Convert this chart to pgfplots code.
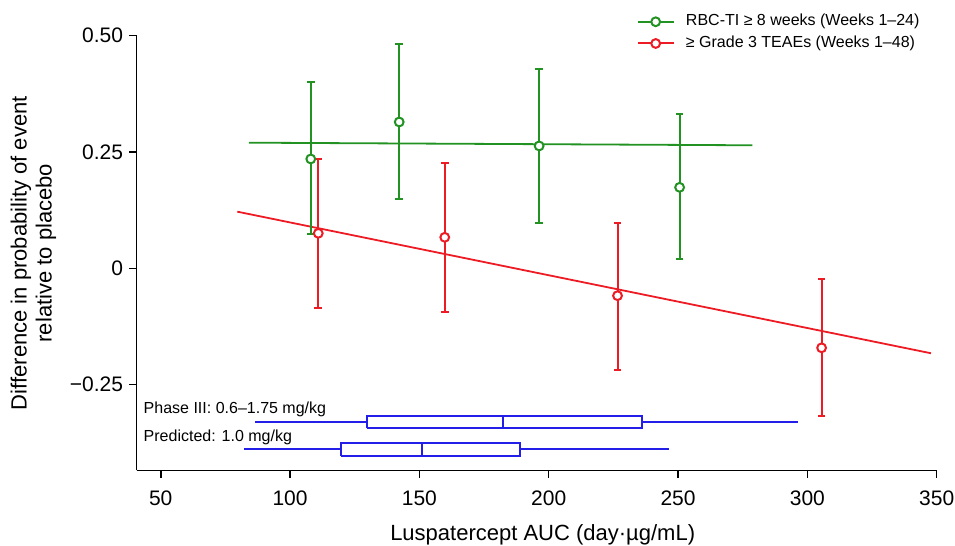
\documentclass[border=0pt]{standalone}
\usepackage{fontspec}
\setmainfont{Liberation Sans}
\usepackage{pgfplots}
\usepackage{pgfplotstable}
\pgfplotsset{compat=1.18}

\definecolor{ptgreen}{RGB}{34,146,34}
\definecolor{ptred}{RGB}{237,28,36}
\definecolor{boxblue}{RGB}{35,31,232}

% x, y, upper and lower error
\pgfplotstableread{
x      y       ep      em
108.0  0.2350  0.1655  0.1606
142.2  0.3145  0.1670  0.1662
196.3  0.2630  0.1650  0.1650
250.6  0.1740  0.1580  0.1550
}\rbcti
\pgfplotstableread{
x      y        ep      em
110.9  0.0752   0.1591  0.1602
159.8  0.0666   0.1591  0.1612
226.6  -0.0589  0.1569  0.1591
305.5  -0.1710  0.1473  0.1460
}\teaes

\begin{document}
\begin{tikzpicture}
\useasboundingbox (-68.35pt,-37.75pt) rectangle (409.15pt,235.25pt);
\begin{axis}[
    at={(0,0)}, anchor=south west,
    width=400pt, height=217.4pt, scale only axis,
    xmin=40.7, xmax=350, ymin=-0.4347, ymax=0.5,
    axis lines=left,
    axis line style={-, line width=0.75pt},
    clip=false,
    xtick={50,100,...,350},
    ytick={-0.25,0,0.25,0.5},
    yticklabels={−0.25,0,0.25,0.50},
    tick align=outside,
    major tick length=3.75pt,
    tick style={black, line width=0.75pt},
    /pgf/number format/assume math mode=true,
    tick label style={font=\fontsize{10.5}{12}\selectfont},
    x tick label style={anchor=base, inner sep=0pt, yshift=-13.6pt},
    y tick label style={anchor=east, inner sep=0pt, xshift=-2.85pt},
    xlabel={Luspatercept AUC (day·µg/mL)},
    xlabel style={at={(axis description cs:0.5075,0)}, anchor=base, inner sep=0pt,
        yshift=-35.1pt, font=\fontsize{11}{13}\selectfont},
    ylabel={Difference in probability of event\\relative to placebo},
    ylabel style={at={(axis description cs:-0.129,0.5)}, anchor=center, align=center,
        inner sep=0pt, font=\fontsize{11}{12.5}\selectfont},
    legend image code/.code={\draw[mark repeat=2,mark phase=2,#1,sharp plot]
        plot coordinates {(0pt,0pt) (9pt,0pt) (18pt,0pt)};},
    legend style={draw=none, fill=none, inner sep=0pt, outer sep=0pt,
        at={(axis description cs:0.625,1.0504)}, anchor=north west,
        font=\fontsize{8}{9.6}\selectfont, row sep=2.85pt, column sep=5.65pt,
        nodes={inner sep=0pt, text height=6pt, text depth=2pt}},
    legend cell align=left,
]
% fitted lines
\addplot[ptgreen, line width=0.9pt, forget plot] coordinates {(84.1,0.2700) (278.7,0.2644)};
\addplot[ptred, line width=0.9pt, forget plot] coordinates {(79.6,0.1217) (347.8,-0.1827)};

% estimates with 95% CI
\addplot[ptgreen, line width=1pt, only marks, mark=*, mark size=2.2pt,
    mark options={fill=white},
    error bars/.cd, y dir=both, y explicit,
    error bar style={ptgreen, line width=1pt, solid},
    error mark options={rotate=90, ptgreen, mark size=1.9pt, line width=1pt}]
    table[x=x, y=y, y error plus=ep, y error minus=em] {\rbcti};
\addlegendentry{RBC-TI ≥ 8 weeks (Weeks 1–24)}
\addplot[ptred, line width=1pt, only marks, mark=*, mark size=2.2pt,
    mark options={fill=white},
    error bars/.cd, y dir=both, y explicit,
    error bar style={ptred, line width=1pt, solid},
    error mark options={rotate=90, ptred, mark size=1.9pt, line width=1pt}]
    table[x=x, y=y, y error plus=ep, y error minus=em] {\teaes};
\addlegendentry{≥ Grade 3 TEAEs (Weeks 1–48)}

% AUC distributions: Phase III
\addplot[boxblue, line width=1pt, forget plot, unbounded coords=jump] coordinates {
    (86.45,-0.3297) (129.7,-0.3297) (nan,nan)
    (129.7,-0.3426) (235.9,-0.3426) (235.9,-0.3168) (129.7,-0.3168) (129.7,-0.3426) (nan,nan)
    (182.4,-0.3426) (182.4,-0.3168) (nan,nan)
    (235.9,-0.3297) (296.5,-0.3297)
};
% AUC distributions: predicted 1.0 mg/kg
\addplot[boxblue, line width=1pt, forget plot, unbounded coords=jump] coordinates {
    (82.3,-0.3895) (119.6,-0.3895) (nan,nan)
    (119.6,-0.4029) (188.9,-0.4029) (188.9,-0.3762) (119.6,-0.3762) (119.6,-0.4029) (nan,nan)
    (151.1,-0.4029) (151.1,-0.3762) (nan,nan)
    (188.9,-0.3895) (246.6,-0.3895)
};
\node[anchor=base west, inner sep=0pt, font=\fontsize{8}{9.6}\selectfont]
    at (axis cs:43.27,-0.3117) {Phase III: 0.6–1.75 mg/kg};
\node[anchor=base west, inner sep=0pt, font=\fontsize{8}{9.6}\selectfont]
    at (axis cs:43.27,-0.3734) {Predicted: 1.0 mg/kg};
\end{axis}
\end{tikzpicture}
\end{document}
